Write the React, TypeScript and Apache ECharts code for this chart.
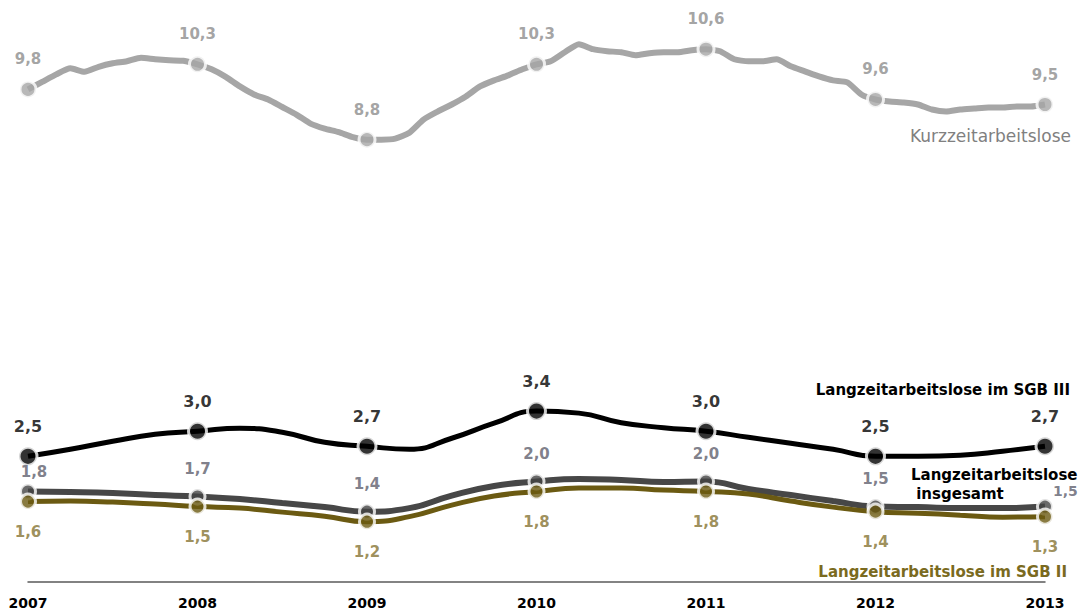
import React, { useEffect, useRef } from "react";
import * as echarts from "echarts";

const years = [2007, 2008, 2009, 2010, 2011, 2012, 2013];
const yearLabels = ["2007", "2008", "2009", "2010", "2011", "2012", "2013"];

// monthly values (Jan 2007 .. Jan 2013)
const kurzMonthly = [
  9.8, 9.95, 10.1, 10.22, 10.15, 10.25, 10.32, 10.36, 10.43, 10.4, 10.38, 10.37,
  10.3, 10.2, 10.05, 9.86, 9.7, 9.6, 9.45, 9.3, 9.12, 9.02, 8.95, 8.85,
  8.8, 8.8, 8.82, 8.94, 9.2, 9.36, 9.5, 9.66, 9.86, 9.98, 10.08, 10.2,
  10.3, 10.36, 10.54, 10.7, 10.6, 10.56, 10.54, 10.48, 10.52, 10.54, 10.54, 10.58,
  10.6, 10.56, 10.4, 10.36, 10.36, 10.4, 10.26, 10.16, 10.06, 9.98, 9.94, 9.7,
  9.6, 9.56, 9.54, 9.5, 9.4, 9.36, 9.4, 9.42, 9.44, 9.44, 9.46, 9.46,
  9.5,
];

// quarterly values (every 3 months)
const sgb3Quarterly = [
  2.5, 2.64, 2.8, 2.94, 3.0, 3.06, 2.98, 2.78, 2.7, 2.64, 2.86, 3.16, 3.4, 3.36,
  3.17, 3.07, 3.0, 2.88, 2.76, 2.64, 2.5, 2.5, 2.52, 2.6, 2.7,
];
const insgQuarterly = [
  1.8, 1.79, 1.77, 1.73, 1.7, 1.65, 1.57, 1.49, 1.4, 1.47, 1.72, 1.91, 2.0, 2.05,
  2.03, 1.99, 2.0, 1.85, 1.73, 1.61, 1.5, 1.49, 1.47, 1.47, 1.5,
];
const sgb2Quarterly = [
  1.6, 1.61, 1.59, 1.55, 1.5, 1.47, 1.39, 1.31, 1.2, 1.3, 1.53, 1.71, 1.8, 1.87,
  1.87, 1.83, 1.8, 1.75, 1.61, 1.49, 1.4, 1.37, 1.33, 1.29, 1.3,
];

// yearly labelled values
const kurzYear = [9.8, 10.3, 8.8, 10.3, 10.6, 9.6, 9.5];
const sgb3Year = [2.5, 3.0, 2.7, 3.4, 3.0, 2.5, 2.7];
const insgYear = [1.8, 1.7, 1.4, 2.0, 2.0, 1.5, 1.5];
const sgb2Year = [1.6, 1.5, 1.2, 1.8, 1.8, 1.4, 1.3];

const FONT = "'DejaVu Sans', Verdana, sans-serif";

const toPairs = (vals: number[], stepMonths: number) =>
  vals.map((v, i) => [2007 + (i * stepMonths) / 12, v]);

const fmt = (v: number) => v.toFixed(1).replace(".", ",");

export default function App() {
  const ref = useRef<HTMLDivElement>(null);

  useEffect(() => {
    if (!ref.current) return;
    const chart = echarts.init(ref.current, undefined, { renderer: "svg" });

    const markerSeries = (
      name: string,
      vals: number[],
      color: string,
      size: number,
      labelColor: string,
      fontSize: number,
      position: string,
      distance: number,
      z: number,
      overrides: Record<number, any> = {}
    ) => ({
      name,
      type: "scatter",
      z,
      symbol: "circle",
      symbolSize: size,
      itemStyle: { color, borderColor: "#ffffff", borderWidth: 3 },
      label: {
        show: true,
        position,
        distance,
        color: labelColor,
        fontSize,
        fontWeight: "bold",
        fontFamily: FONT,
        formatter: (p: any) => fmt(p.value[1]),
      },
      data: vals.map((v, i) => {
        const item: any = { value: [years[i], v] };
        if (overrides[i]) item.label = overrides[i];
        return item;
      }),
    });

    chart.setOption({
      animation: false,
      backgroundColor: "#ffffff",
      grid: { left: 28, right: 33, top: 9, bottom: 28 },
      xAxis: {
        type: "value",
        min: 2007,
        max: 2013,
        interval: 1,
        axisLine: { show: true, lineStyle: { color: "#5a5a5a", width: 1.5 } },
        axisTick: { show: false },
        splitLine: { show: false },
        axisLabel: {
          formatter: (v: number) => yearLabels[Math.round(v) - 2007] || "",
          color: "#000000",
          fontSize: 14,
          fontWeight: "bold",
          fontFamily: FONT,
          margin: 14,
        },
      },
      yAxis: { type: "value", min: 0, max: 11.4, show: false },
      series: [
        {
          name: "Kurzzeitarbeitslose",
          type: "line",
          z: 2,
          smooth: 0.2,
          showSymbol: false,
          lineStyle: { color: "#a6a6a6", width: 6 },
          data: toPairs(kurzMonthly, 1),
        },
        {
          name: "Langzeitarbeitslose im SGB III",
          type: "line",
          z: 2,
          smooth: 0.5,
          showSymbol: false,
          lineStyle: { color: "#000000", width: 5 },
          data: toPairs(sgb3Quarterly, 3),
        },
        {
          name: "Langzeitarbeitslose insgesamt",
          type: "line",
          z: 2,
          smooth: 0.5,
          showSymbol: false,
          lineStyle: { color: "#474747", width: 6 },
          data: toPairs(insgQuarterly, 3),
        },
        {
          name: "Langzeitarbeitslose im SGB II",
          type: "line",
          z: 3,
          smooth: 0.5,
          showSymbol: false,
          lineStyle: { color: "#6b5a12", width: 5 },
          data: toPairs(sgb2Quarterly, 3),
        },
        markerSeries("kurzMarks", kurzYear, "#a6a6a6", 16, "#8c8c8c", 15, "top", 13, 4),
        markerSeries("sgb3Marks", sgb3Year, "#000000", 18, "#000000", 16, "top", 11, 4),
        markerSeries("insgMarks", insgYear, "#444444", 15, "#5e5e6c", 15, "top", 11, 4, {
          0: { position: "top", distance: 3, offset: [6, 0] },
          6: { position: "right", distance: 1, offset: [-2, -16], fontSize: 14 },
        }),
        markerSeries("sgb2Marks", sgb2Year, "#6b5a12", 15, "#857331", 15, "bottom", 14, 5),
      ],
      graphic: [
        {
          type: "text",
          right: 7,
          top: 127,
          style: {
            text: "Kurzzeitarbeitslose",
            fill: "#808080",
            fontSize: 17,
            fontFamily: FONT,
          },
        },
        {
          type: "text",
          right: 8,
          top: 382,
          style: {
            text: "Langzeitarbeitslose im SGB III",
            fill: "#000000",
            fontSize: 15,
            fontWeight: "bold",
            fontFamily: FONT,
          },
        },
        {
          type: "text",
          left: 911,
          top: 465,
          style: {
            text: "Langzeitarbeitslose\n insgesamt",
            fill: "#000000",
            fontSize: 15,
            fontWeight: "bold",
            fontFamily: FONT,
            lineHeight: 19,
          },
        },
        {
          type: "text",
          right: 11,
          top: 564,
          style: {
            text: "Langzeitarbeitslose im SGB II",
            fill: "#7a6a20",
            fontSize: 15,
            fontWeight: "bold",
            fontFamily: FONT,
          },
        },
      ],
    });

    return () => chart.dispose();
  }, []);

  return (
    <div
      ref={ref}
      style={{ position: "fixed", left: 0, top: 0, width: 1078, height: 610, background: "#fff" }}
    />
  );
}
